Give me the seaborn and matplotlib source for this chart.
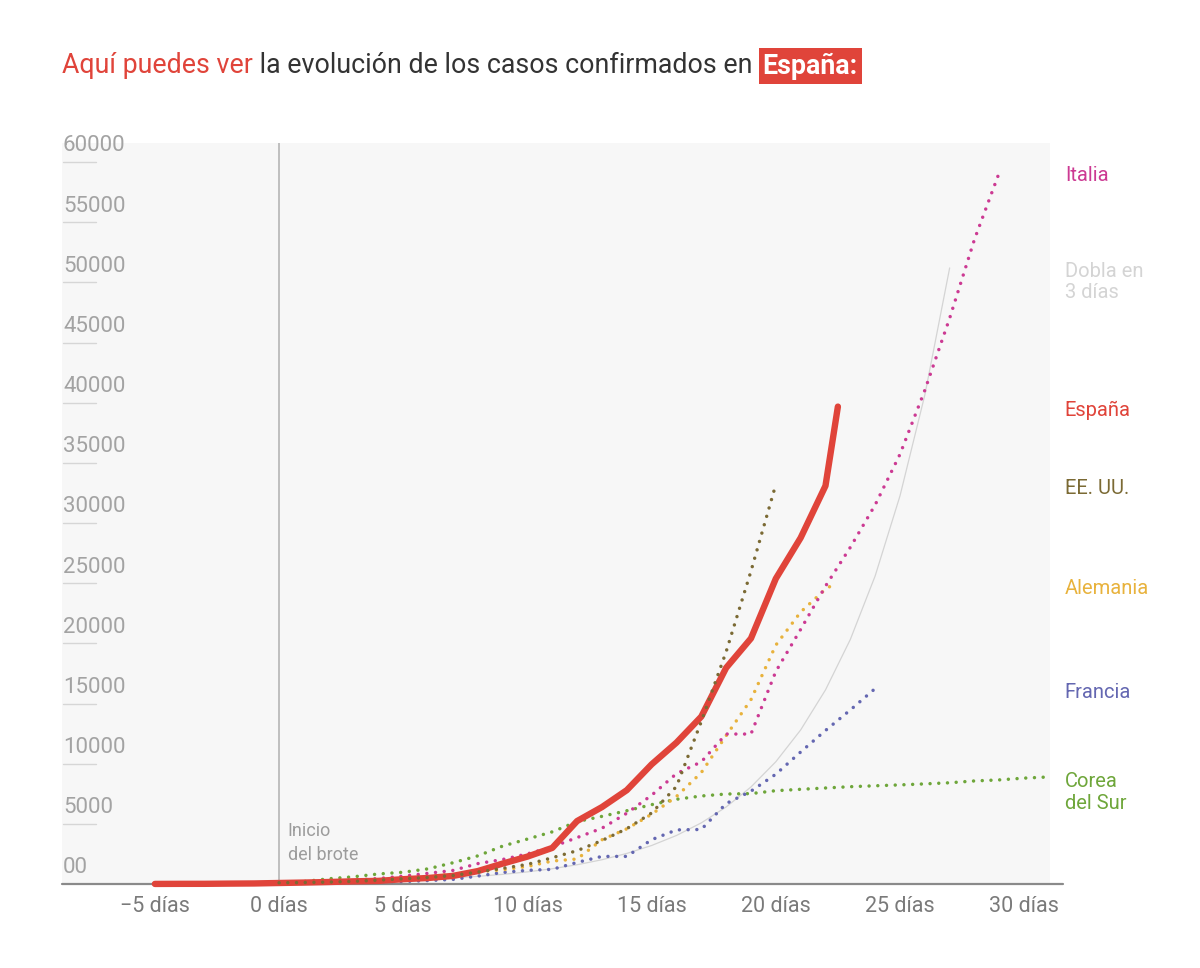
import numpy as np
import pandas as pd
import seaborn as sns
import matplotlib.pyplot as plt
import matplotlib.transforms as mtransforms

# casos confirmados por dia desde el inicio del brote
spain_days = list(range(-5, 23)) + [22.5]
spain = [6, 13, 15, 32, 45, 84, 120, 165, 222, 259, 400, 500, 673, 1073, 1695,
         2277, 3000, 5232, 6391, 7798, 9942, 11748, 13910, 17963, 20410, 25374,
         28768, 33089, 39673]

italy_days = list(range(0, 30))
italy = [62, 155, 229, 322, 453, 655, 888, 1128, 1694, 2036, 2502, 3089, 3858,
         4636, 5883, 7375, 9172, 10149, 12462, 12462, 17660, 21157, 24747, 27980,
         31506, 35713, 41035, 47021, 53578, 59138]

us_days = list(range(0, 21))
us = [100, 124, 158, 221, 319, 435, 541, 704, 994, 1301, 1630, 2183, 2770, 3613,
      4596, 5900, 8100, 13500, 19300, 26000, 33200]

germany_days = list(range(0, 23)) + [22.3]
germany = [79, 130, 159, 196, 262, 482, 670, 799, 1040, 1176, 1457, 1908, 2078,
           3675, 4585, 5795, 7272, 9257, 12327, 15320, 19848, 22600, 24500, 24873]

france_days = list(range(0, 25))
france = [38, 57, 100, 130, 191, 204, 288, 380, 656, 959, 1136, 1219, 1794, 2293,
          2293, 3681, 4496, 4532, 6683, 7715, 9124, 10970, 12758, 14463, 16243]

korea_days = list(range(0, 32))
korea = [104, 204, 433, 602, 833, 977, 1261, 1766, 2337, 3150, 3736, 4335, 5186,
         5621, 6088, 6593, 7041, 7314, 7478, 7513, 7755, 7869, 7979, 8086, 8162,
         8236, 8320, 8413, 8565, 8652, 8799, 8897]

double_days = list(range(0, 28))
double3 = [100, 126, 159, 200, 252, 317, 400, 504, 635, 800, 1008, 1270, 1600,
           2016, 2540, 3200, 4032, 5080, 6400, 8063, 10159, 12800, 16127, 20319,
           25600, 32254, 40637, 51200]

xticks = [-5, 0, 5, 10, 15, 20, 25, 30]
xlabels = ["\u22125 días", "0 días", "5 días", "10 días", "15 días", "20 días",
           "25 días", "30 días"]
yticks = [0, 5000, 10000, 15000, 20000, 25000, 30000, 35000, 40000, 45000,
          50000, 55000, 60000]
ylabels = ["00"] + [str(v) for v in yticks[1:]]

RED = "#e0443a"
colors = {
    "Italia": "#cc3a93",
    "Dobla en\n3 días": "#d4d4d4",
    "España": RED,
    "EE. UU.": "#7b6a34",
    "Alemania": "#e8b23c",
    "Francia": "#6467b1",
    "Corea\ndel Sur": "#6ea63a",
}

sns.set_theme(style="white")
plt.rcParams["font.family"] = ["Roboto", "DejaVu Sans"]

fig = plt.figure(figsize=(12, 9.68), dpi=100)
ax = fig.add_axes([62 / 1200, 84 / 968, 988 / 1200, 741 / 968])
ax.set_facecolor("#f7f7f7")
ax.set_xlim(-8.74, 31.04)
ax.set_ylim(0, 61580)
for s in ax.spines.values():
    s.set_visible(False)

ax.axvline(0, color="#b5b5b5", lw=1.2, zorder=1)
ax.axhline(0, xmin=0, xmax=1.013, color="#8a8a8a", lw=1.6, clip_on=False, zorder=1)

dot = dict(lw=2.5, linestyle=(0, (0.01, 2.5)), dash_capstyle="round",
           estimator=None, sort=False, clip_on=False)

sns.lineplot(x=double_days, y=double3, ax=ax, color=colors["Dobla en\n3 días"],
             lw=0.9, estimator=None, sort=False, zorder=2)
sns.lineplot(x=korea_days, y=korea, ax=ax, color=colors["Corea\ndel Sur"], zorder=3, **dot)
sns.lineplot(x=france_days, y=france, ax=ax, color=colors["Francia"], zorder=3, **dot)
sns.lineplot(x=germany_days, y=germany, ax=ax, color=colors["Alemania"], zorder=3, **dot)
sns.lineplot(x=italy_days, y=italy, ax=ax, color=colors["Italia"], zorder=3, **dot)
sns.lineplot(x=spain_days, y=spain, ax=ax, color=RED, lw=4.6,
             solid_capstyle="round", solid_joinstyle="round",
             estimator=None, sort=False, clip_on=False, zorder=4)
sns.lineplot(x=us_days, y=us, ax=ax, color=colors["EE. UU."], zorder=5, **dot)

# ejes
ax.set_xticks(xticks)
ax.set_xticklabels(xlabels, fontsize=15.5, color="#7a7a7a")
ax.tick_params(axis="x", length=0, pad=9)
ax.set_yticks([])
ax.set_xlabel("")
ax.set_ylabel("")

blend = mtransforms.blended_transform_factory(ax.transAxes, ax.transData)
for v, lab in zip(yticks, ylabels):
    ax.annotate(lab, xy=(0.001, v), xycoords=blend, xytext=(0, 4),
                textcoords="offset points", ha="left", va="bottom",
                fontsize=16, color="#a3a3a3")
    if v > 0:
        ax.plot([0.001, 0.034], [v, v], transform=blend, color="#d6d6d6", lw=1)

ax.text(0.35, 3400, "Inicio\ndel brote", fontsize=13, color="#9c9c9c",
        va="center", ha="left", linespacing=1.4)

# etiquetas a la derecha
ends = {
    "Italia": italy[-1],
    "Dobla en\n3 días": double3[-1] - 900,
    "España": spain[-1],
    "EE. UU.": us[-1],
    "Alemania": germany[-1],
    "Francia": france[-1],
    "Corea\ndel Sur": korea[-1] - 1000,
}
for name, v in ends.items():
    ax.text(1.015, v - 300, name, transform=blend, ha="left", va="center",
            fontsize=14.5, color=colors[name], linespacing=1.15, clip_on=False)

# titulo en varios colores
fig.canvas.draw()
renderer = fig.canvas.get_renderer()
x0 = 62 / 1200
ty = 1 - 66 / 968
t1 = fig.text(x0, ty, "Aquí puedes ver", fontsize=19.3, color=RED, va="center")
w = t1.get_window_extent(renderer).width / 1200
t2 = fig.text(x0 + w, ty, " la evolución de los casos confirmados en ", fontsize=19.3,
              color="#333333", va="center")
w += t2.get_window_extent(renderer).width / 1200
fig.text(x0 + w + 0.003, ty, "España:", fontsize=19.3, color="white", weight="bold",
         va="center", bbox=dict(boxstyle="square,pad=0.15", fc=RED, ec="none"))

fig.savefig("out.png", dpi=100, facecolor="white")
